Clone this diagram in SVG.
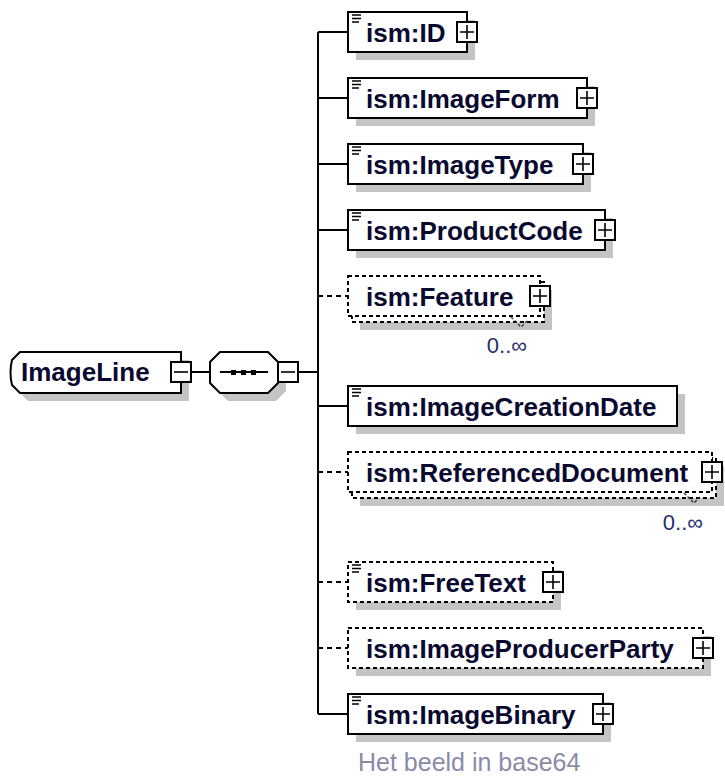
<svg xmlns="http://www.w3.org/2000/svg" xmlns:xlink="http://www.w3.org/1999/xlink" width="725" height="776" viewBox="0 0 725 776">
<style>
.box{fill:#fff;stroke:#000;stroke-width:2}
.dash{stroke-dasharray:4 3}
.shadow{fill:#c4c4c4;stroke:none}
.conn{stroke:#000;stroke-width:2;fill:none}
.cdash{stroke-dasharray:5 4}
.lbl{font-family:"Liberation Sans",Arial,sans-serif;font-weight:bold;font-size:26px;fill:#0a0a30}
.mult{font-family:"Liberation Sans",Arial,sans-serif;font-size:22px;fill:#1f2f70}
.doc{font-family:"Liberation Sans",Arial,sans-serif;font-size:25px;fill:#8a8aa8}
.sign{stroke:#000;stroke-width:1.6;fill:none}
.icon{stroke:#000;stroke-width:1.4;fill:none}
.notch{stroke:#333;stroke-width:1.4;fill:none;stroke-dasharray:3 2}
</style>
<defs>
<g id="plus"><rect x="-10" y="-10" width="20" height="20" class="box"/><path class="sign" d="M-7,0H7M0,-7V7"/></g>
<g id="minus"><rect x="-10" y="-10" width="20" height="20" class="box"/><path class="sign" d="M-7,0H7"/></g>
<path id="icon" class="icon" d="M0,0H9M0,3.5H9M0,7H7"/>
</defs>

<g id="connectors">
<path class="conn" d="M191,372H210M298,372H318M318,32V714"/>
<path class="conn" d="M318,32H348M318,98H348M318,164H348M318,230H348M318,406H348M318,714H348"/>
<path class="conn cdash" d="M318,296H348M318,472H348M318,582H348M318,648H348"/>
</g>

<g id="ImageLine">
<path class="shadow" transform="translate(8,8)" d="M20,352H181V393H20L12,385Q9,372.5 12,360Z"/>
<path class="box" d="M20,352H181V393H20L12,385Q9,372.5 12,360Z"/>
<text class="lbl" x="21" y="381">ImageLine</text>
<use href="#minus" x="181" y="372"/>
</g>

<g id="sequence">
<path class="shadow" transform="translate(8,8)" d="M220,352H268L278,362V383L268,393H220L210,383V362Z"/>
<path class="box" d="M220,352H268L278,362V383L268,393H220L210,383V362Z"/>
<path class="conn" d="M220,372H268"/>
<rect x="231" y="370" width="5" height="5" fill="#000"/>
<rect x="241" y="370" width="5" height="5" fill="#000"/>
<rect x="251" y="370" width="5" height="5" fill="#000"/>
<use href="#minus" x="288" y="372"/>
</g>

<g id="ID">
<rect class="shadow" x="356" y="20" width="119" height="40"/>
<rect class="box" x="348" y="12" width="119" height="40"/>
<use href="#icon" x="352" y="15"/>
<text class="lbl" x="366" y="42">ism:ID</text>
<use href="#plus" x="467" y="32"/>
</g>

<g id="ImageForm">
<rect class="shadow" x="356" y="86" width="239" height="40"/>
<rect class="box" x="348" y="78" width="239" height="40"/>
<use href="#icon" x="352" y="81"/>
<text class="lbl" x="366" y="108">ism:ImageForm</text>
<use href="#plus" x="587" y="98"/>
</g>

<g id="ImageType">
<rect class="shadow" x="356" y="152" width="235" height="40"/>
<rect class="box" x="348" y="144" width="235" height="40"/>
<use href="#icon" x="352" y="147"/>
<text class="lbl" x="366" y="174">ism:ImageType</text>
<use href="#plus" x="583" y="164"/>
</g>

<g id="ProductCode">
<rect class="shadow" x="356" y="218" width="257" height="40"/>
<rect class="box" x="348" y="210" width="257" height="40"/>
<use href="#icon" x="352" y="213"/>
<text class="lbl" x="366" y="240">ism:ProductCode</text>
<use href="#plus" x="605" y="230"/>
</g>

<g id="Feature">
<rect class="shadow" x="360" y="290" width="192" height="40"/>
<rect class="box dash" x="352" y="282" width="192" height="40"/>
<rect class="box dash" x="348" y="276" width="192" height="40"/>
<path class="notch" d="M511,317L521,327L527,321"/>
<text class="lbl" x="366" y="306">ism:Feature</text>
<use href="#plus" x="540" y="296"/>
<text class="mult" x="527" y="353" text-anchor="end">0..∞</text>
</g>

<g id="ImageCreationDate">
<rect class="shadow" x="356" y="394" width="329" height="40"/>
<rect class="box" x="348" y="386" width="329" height="40"/>
<use href="#icon" x="352" y="389"/>
<text class="lbl" x="366" y="416">ism:ImageCreationDate</text>
</g>

<g id="ReferencedDocument">
<rect class="shadow" x="360" y="466" width="364" height="40"/>
<rect class="box dash" x="352" y="458" width="364" height="40"/>
<rect class="box dash" x="348" y="452" width="364" height="40"/>
<path class="notch" d="M684,493L694,503L700,497"/>
<text class="lbl" x="366" y="482">ism:ReferencedDocument</text>
<use href="#plus" x="712" y="472"/>
<text class="mult" x="703" y="530" text-anchor="end">0..∞</text>
</g>

<g id="FreeText">
<rect class="shadow" x="356" y="570" width="205" height="40"/>
<rect class="box dash" x="348" y="562" width="205" height="40"/>
<use href="#icon" x="352" y="565"/>
<text class="lbl" x="366" y="592">ism:FreeText</text>
<use href="#plus" x="553" y="582"/>
</g>

<g id="ImageProducerParty">
<rect class="shadow" x="356" y="636" width="355" height="40"/>
<rect class="box dash" x="348" y="628" width="355" height="40"/>
<text class="lbl" x="366" y="658">ism:ImageProducerParty</text>
<use href="#plus" x="703" y="648"/>
</g>

<g id="ImageBinary">
<rect class="shadow" x="356" y="702" width="255" height="40"/>
<rect class="box" x="348" y="694" width="255" height="40"/>
<use href="#icon" x="352" y="697"/>
<text class="lbl" x="366" y="724">ism:ImageBinary</text>
<use href="#plus" x="603" y="714"/>
<text class="doc" x="358" y="771">Het beeld in base64</text>
</g>
</svg>
